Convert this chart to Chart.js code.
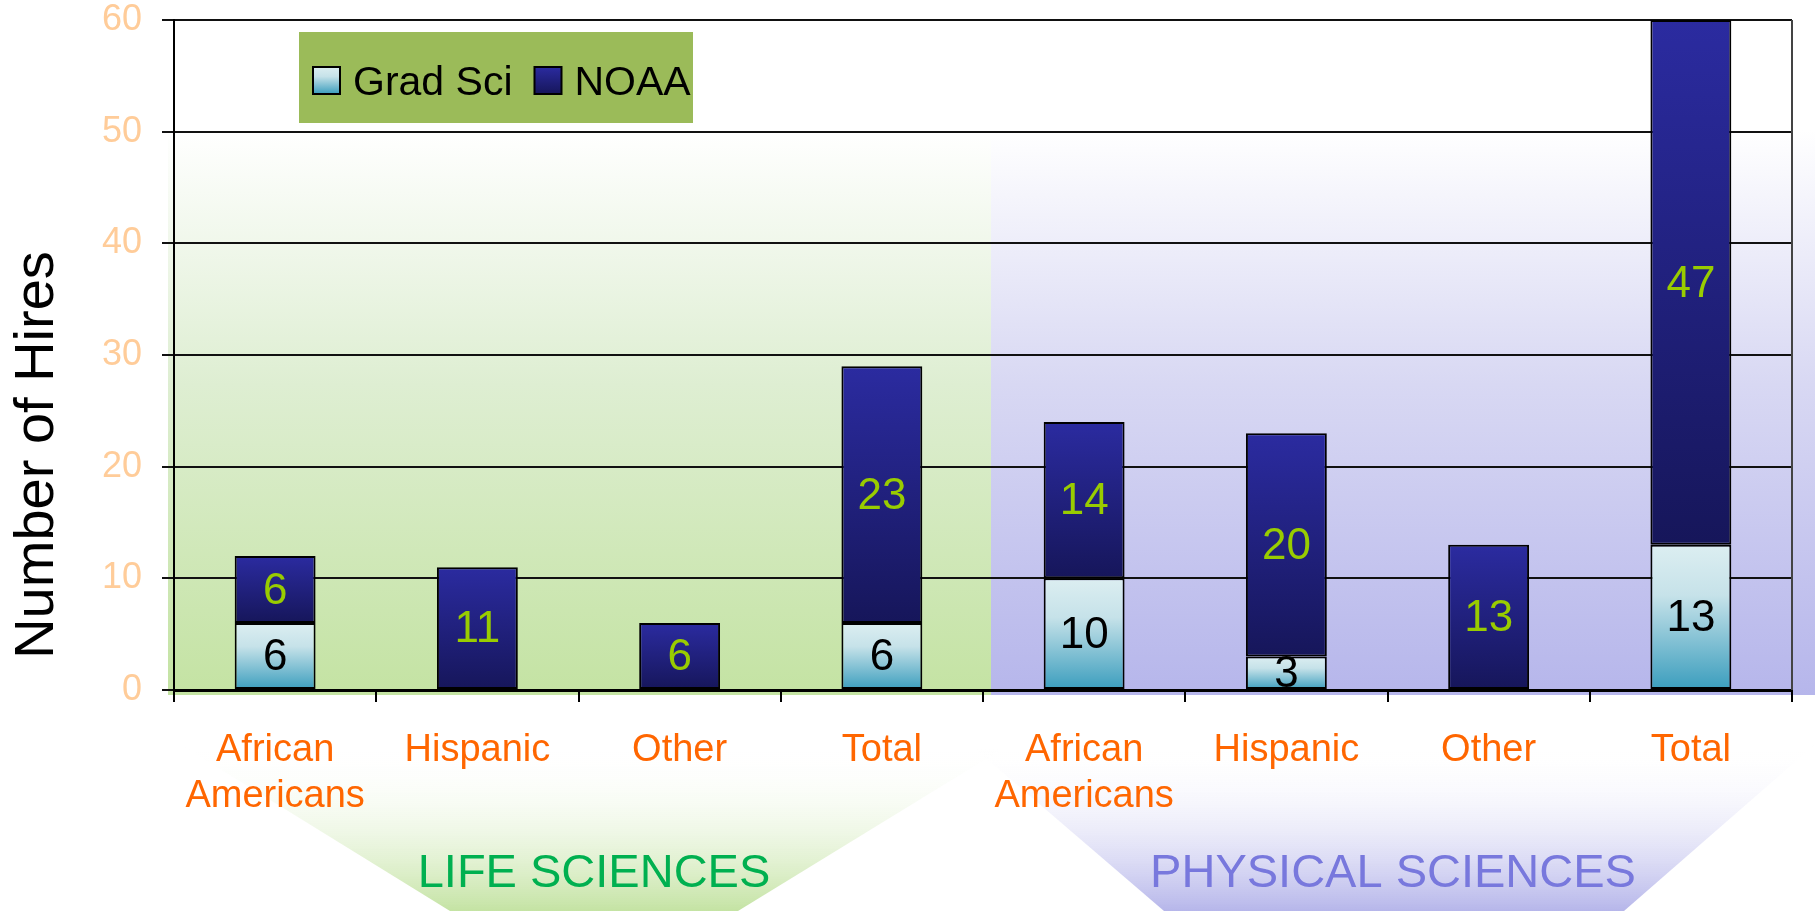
<!DOCTYPE html>
<html>
<head>
<meta charset="utf-8">
<script src="https://cdn.jsdelivr.net/npm/chart.js@4.4.0/dist/chart.umd.min.js"></script>
<style>
  html, body { margin: 0; padding: 0; background: #fff; }
  #wrap { width: 1819px; height: 911px; }
</style>
</head>
<body>
<div id="wrap"><canvas id="chart"></canvas></div>
<script>
var categories = [['African', 'Americans'], 'Hispanic', 'Other', 'Total',
                  ['African', 'Americans'], 'Hispanic', 'Other', 'Total'];
var groups = ['LIFE SCIENCES', 'PHYSICAL SCIENCES'];
var gradSci = [6, 0, 0, 6, 10, 3, 0, 13];
var noaa = [6, 11, 6, 23, 14, 20, 13, 47];
var yMax = 60, yStep = 10;

var FONT = '"Liberation Sans", Arial, sans-serif';
var gradStops = [[0, '#DCEEF1'], [0.35, '#C6E2E9'], [1, '#3A9DBD']];
var noaaStops = [[0, '#2B2BA0'], [1, '#16165A']];
var labelColors = ['#000000', '#99CC00'];

function barFill(stops, dsIndex) {
    return function(c) {
        var chart = c.chart, y = chart.scales.y;
        var i = c.dataIndex;
        if (!y || i === undefined) return stops[stops.length - 1][1];
        var base = 0;
        for (var k = 0; k < dsIndex; k++) base += chart.data.datasets[k].data[i];
        var v = chart.data.datasets[dsIndex].data[i];
        var y0 = y.getPixelForValue(base), y1 = y.getPixelForValue(base + v);
        if (!isFinite(y0) || !isFinite(y1) || y0 === y1) return stops[stops.length - 1][1];
        var g = chart.ctx.createLinearGradient(0, y1, 0, y0);
        stops.forEach(function(s) { g.addColorStop(s[0], s[1]); });
        return g;
    };
}

function zeroless(c) {
    return c.raw ? 2 : 0;
}

// painted panels behind the plot and the funnels under the axis
var backdrop = {
    id: 'backdrop',
    beforeDraw: function(chart) {
        var ctx = chart.ctx, ca = chart.chartArea, x = chart.scales.x;
        var split = (x.getPixelForValue(3) + x.getPixelForValue(4)) / 2 + 8;
        var top = 130, bottom = ca.bottom + 5;
        ctx.save();
        var g = ctx.createLinearGradient(0, top, 0, bottom);
        g.addColorStop(0, '#FFFFFF'); g.addColorStop(0.45, '#DEEED2'); g.addColorStop(1, '#C4E3A3');
        ctx.fillStyle = g;
        ctx.fillRect(ca.left - 6, top, split - ca.left + 6, bottom - top);
        g = ctx.createLinearGradient(0, top, 0, bottom);
        g.addColorStop(0, '#FFFFFF'); g.addColorStop(0.45, '#D8D8F3'); g.addColorStop(1, '#B6B6EB');
        ctx.fillStyle = g;
        ctx.fillRect(split, top, 1815 - split, bottom - top);

        // funnels
        var fTop = 735, fBot = chart.height;
        g = ctx.createLinearGradient(0, 745, 0, fBot);
        g.addColorStop(0, 'rgba(255,255,255,0)'); g.addColorStop(1, '#C4E3A3');
        ctx.fillStyle = g;
        ctx.beginPath();
        ctx.moveTo(165, fTop); ctx.lineTo(1025, fTop); ctx.lineTo(738, fBot); ctx.lineTo(450, fBot);
        ctx.closePath(); ctx.fill();
        g = ctx.createLinearGradient(0, 745, 0, fBot);
        g.addColorStop(0, 'rgba(255,255,255,0)'); g.addColorStop(1, '#B6B6EA');
        ctx.fillStyle = g;
        ctx.beginPath();
        ctx.moveTo(959, fTop); ctx.lineTo(1826, fTop); ctx.lineTo(1624, fBot); ctx.lineTo(1164, fBot);
        ctx.closePath(); ctx.fill();

        ctx.font = '47px ' + FONT;
        ctx.textAlign = 'center';
        ctx.textBaseline = 'middle';
        ctx.fillStyle = '#00B050';
        ctx.fillText(groups[0], 594, 874);
        ctx.fillStyle = '#7878DD';
        ctx.fillText(groups[1], 1393, 874);
        ctx.restore();
    },
    beforeDatasetsDraw: function(chart) {
        var ctx = chart.ctx, ca = chart.chartArea;
        ctx.save();
        ctx.strokeStyle = '#444';
        ctx.lineWidth = 2;
        ctx.beginPath();
        ctx.moveTo(ca.right, ca.top);
        ctx.lineTo(ca.right, ca.bottom);
        ctx.stroke();
        ctx.restore();
    }
};

var valueLabels = {
    id: 'valueLabels',
    afterDatasetsDraw: function(chart) {
        var ctx = chart.ctx;
        ctx.save();
        ctx.font = '44px ' + FONT;
        ctx.textAlign = 'center';
        ctx.textBaseline = 'middle';
        chart.data.datasets.forEach(function(ds, di) {
            var meta = chart.getDatasetMeta(di);
            meta.data.forEach(function(bar, i) {
                if (!ds.data[i]) return;
                ctx.fillStyle = labelColors[di];
                ctx.fillText(String(ds.data[i]), bar.x, (bar.y + bar.base) / 2 + 2);
            });
        });
        ctx.restore();
    }
};

var overlay = {
    id: 'overlay',
    afterDraw: function(chart) {
        var ctx = chart.ctx;
        ctx.save();
        // legend box
        ctx.fillStyle = '#9BBB59';
        ctx.fillRect(299, 32, 394, 91);
        ctx.font = '41px ' + FONT;
        ctx.textBaseline = 'alphabetic';
        ctx.textAlign = 'left';
        var lx = 313, sw = 27, sy = 67;
        var stopsList = [gradStops, noaaStops];
        chart.data.datasets.forEach(function(ds, di) {
            var g = ctx.createLinearGradient(0, sy, 0, sy + sw);
            stopsList[di].forEach(function(s) { g.addColorStop(s[0], s[1]); });
            ctx.fillStyle = g;
            ctx.fillRect(lx, sy, sw, sw);
            ctx.strokeStyle = '#000';
            ctx.lineWidth = 2;
            ctx.strokeRect(lx, sy, sw, sw);
            ctx.fillStyle = '#000';
            ctx.fillText(ds.label, lx + 40, 95);
            lx = lx + 40 + ctx.measureText(ds.label).width + 22;
        });

        // y axis title
        ctx.translate(38, 455);
        ctx.rotate(-Math.PI / 2);
        ctx.textAlign = 'center';
        ctx.textBaseline = 'middle';
        ctx.font = '56px ' + FONT;
        ctx.fillStyle = '#000';
        ctx.fillText('Number of Hires', 0, 0);
        ctx.restore();
    }
};

var ctx = document.getElementById('chart');
var chart = new Chart(ctx, {
    type: 'bar',
    data: {
        labels: categories,
        datasets: [
            {
                label: 'Grad Sci',
                data: gradSci,
                backgroundColor: barFill(gradStops, 0),
                borderColor: '#000',
                borderWidth: zeroless,
                borderSkipped: false,
                barPercentage: 0.4,
                categoryPercentage: 1
            },
            {
                label: 'NOAA',
                data: noaa,
                backgroundColor: barFill(noaaStops, 1),
                borderColor: '#000',
                borderWidth: zeroless,
                borderSkipped: false,
                barPercentage: 0.4,
                categoryPercentage: 1
            }
        ]
    },
    options: {
        responsive: true,
        maintainAspectRatio: false,
        animation: false,
        layout: { padding: { top: 20, right: 27, left: 0, bottom: 0 } },
        plugins: {
            legend: { display: false },
            tooltip: { enabled: false }
        },
        scales: {
            x: {
                stacked: true,
                afterFit: function(s) { s.height = 221; },
                grid: { drawOnChartArea: false, color: '#000', lineWidth: 2, tickLength: 12, offset: true },
                border: { color: '#000', width: 3 },
                ticks: {
                    color: '#FF6600',
                    font: { family: FONT, size: 38, lineHeight: 1.21 },
                    padding: 26,
                    maxRotation: 0,
                    autoSkip: false
                }
            },
            y: {
                stacked: true,
                min: 0,
                max: yMax,
                afterFit: function(s) {
                    s.width = 174;
                    s.paddingTop = 0;
                    s.paddingBottom = 0;
                },
                grid: { color: '#111', lineWidth: 2, tickLength: 12 },
                border: { color: '#000', width: 2 },
                ticks: {
                    stepSize: yStep,
                    color: '#FFCC99',
                    font: { family: FONT, size: 36 },
                    padding: 20
                }
            }
        }
    },
    plugins: [backdrop, valueLabels, overlay]
});
</script>
</body>
</html>
